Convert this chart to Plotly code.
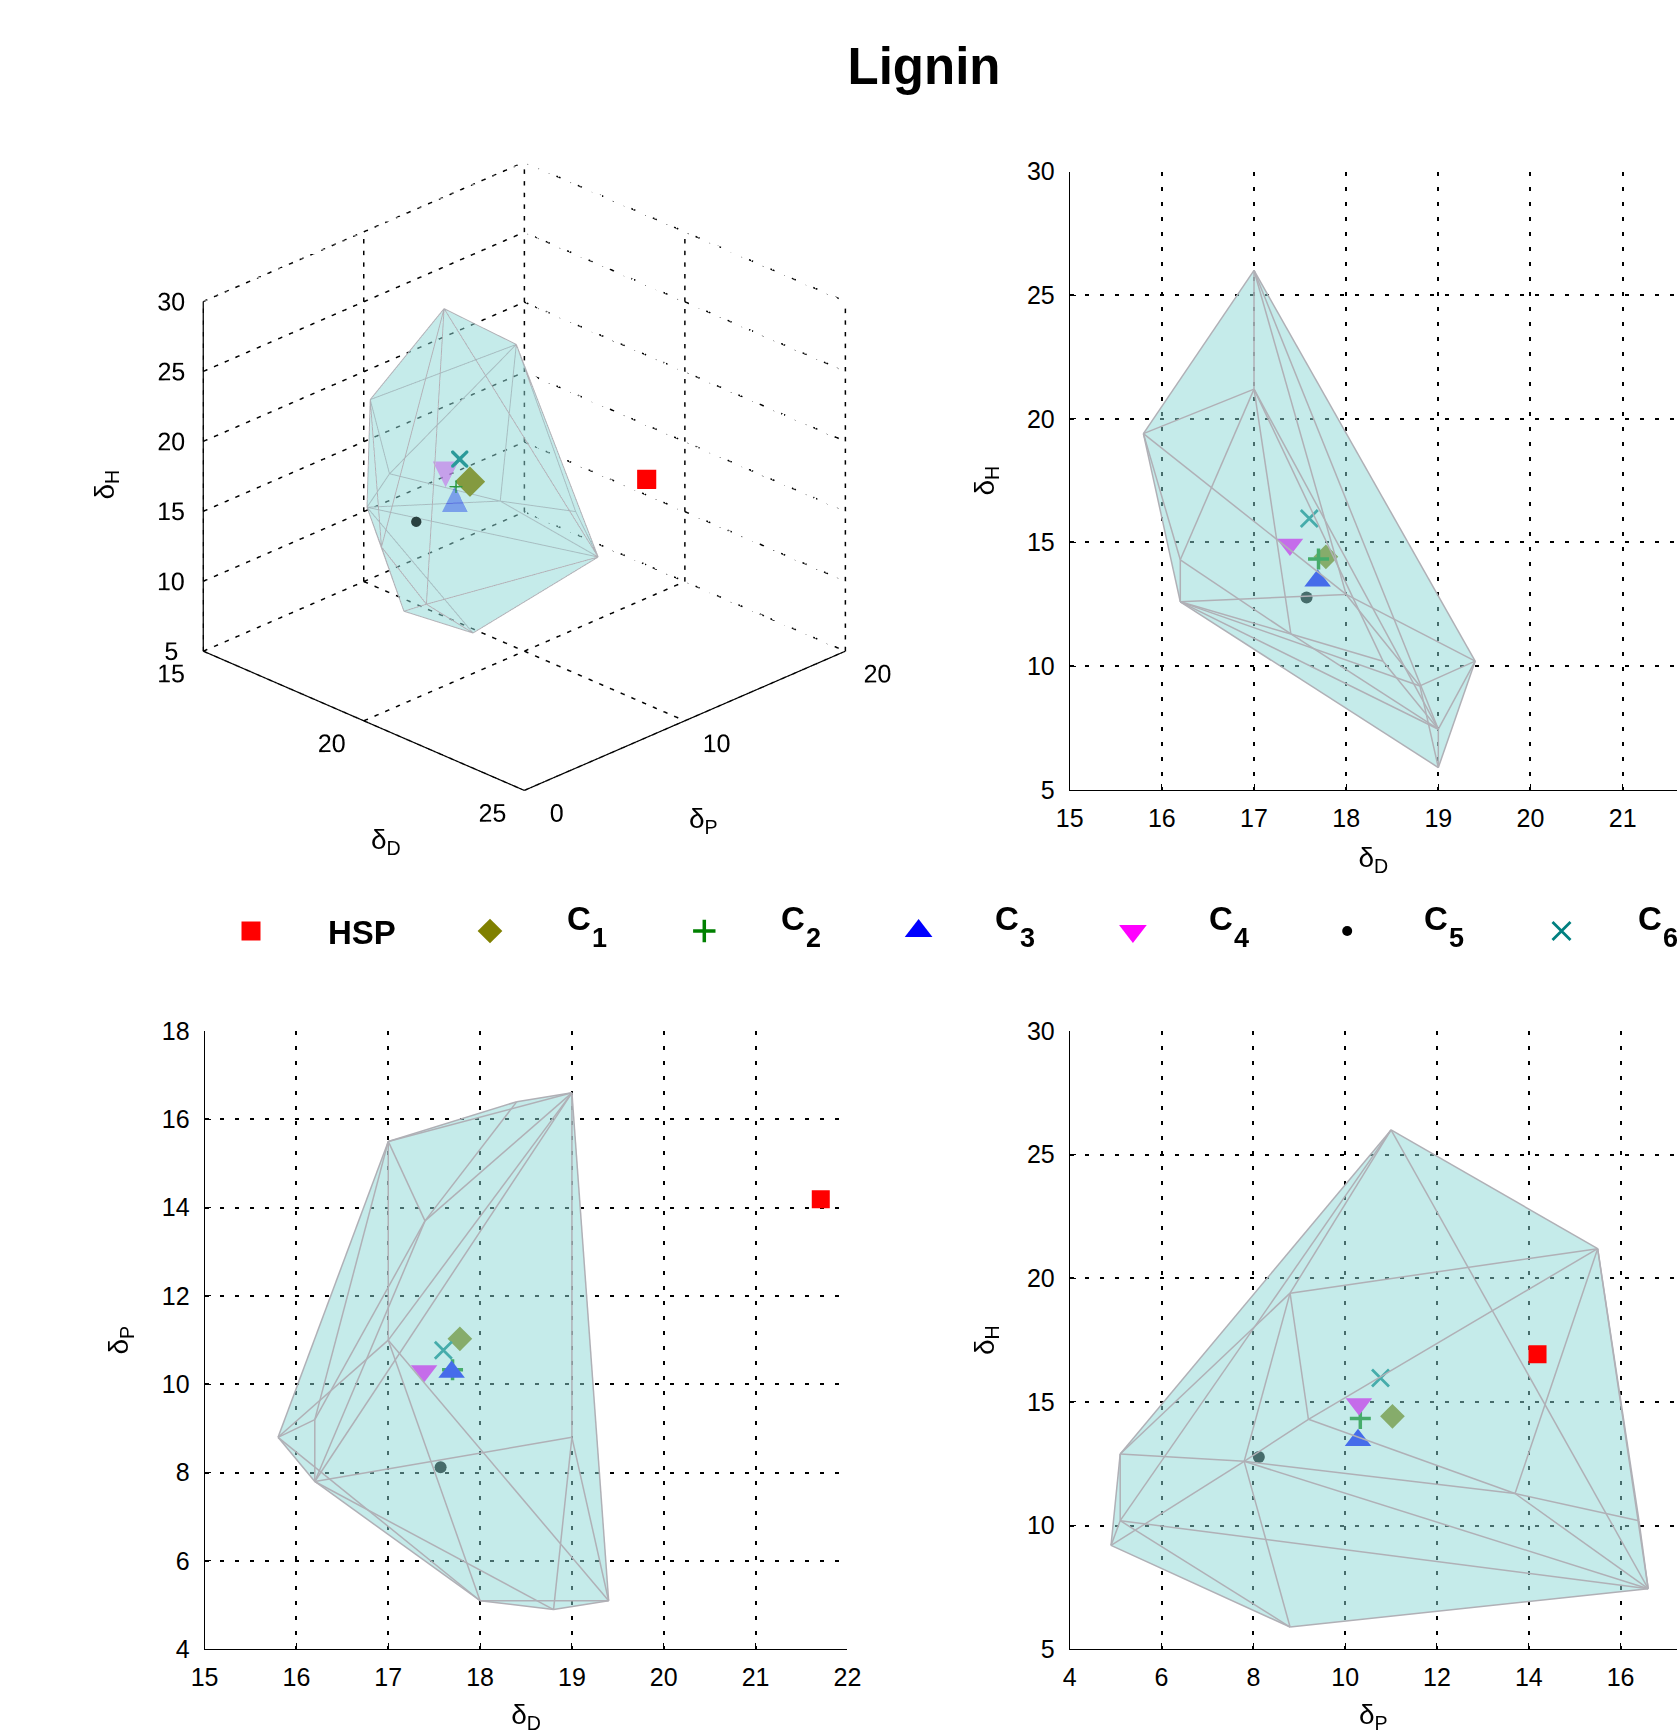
import itertools
import numpy as np
import plotly.graph_objects as go

# ---------------- data ----------------
title_text = "Lignin"

# points (solvents) spanning the convex hull: (delta_D, delta_P, delta_H)
hull_D = [17.0, 17.0, 15.8, 16.2, 16.2, 19.4, 18.8, 19.0, 19.0, 18.0, 17.4, 18.4]
hull_P = [11.0, 15.5, 8.8, 7.8, 9.2, 5.1, 4.9, 8.8, 16.6, 5.1, 13.7, 16.4]
hull_H = [26.0, 21.2, 19.4, 12.6, 14.3, 10.2, 9.2, 5.9, 7.45, 12.9, 11.3, 10.2]

# HSP and cluster centres
series_names = ["HSP", "C1", "C2", "C3", "C4", "C5", "C6"]
legend_main = ["HSP", "C", "C", "C", "C", "C", "C"]
legend_sub = ["", "1", "2", "3", "4", "5", "6"]
series_D = [21.71, 17.78, 17.70, 17.69, 17.39, 17.57, 17.60]
series_P = [14.19, 11.03, 10.33, 10.28, 10.30, 8.12, 10.77]
series_H = [16.93, 14.42, 14.33, 13.45, 14.92, 12.78, 15.97]

D_ticks = [15, 16, 17, 18, 19, 20, 21, 22]
P_ticks_dp = [4, 6, 8, 10, 12, 14, 16, 18]
P_ticks_ph = [4, 6, 8, 10, 12, 14, 16, 18]
H_ticks = [5, 10, 15, 20, 25, 30]
D_ticks_3d = [15, 20, 25]
P_ticks_3d = [0, 10, 20]

# ---------------- styles ----------------
colors = ["#FF0000", "#808000", "#008000", "#0000FF", "#FF00FF", "#000000", "#008080"]
symbols = ["square", "diamond", "cross-thin", "triangle-up", "triangle-down", "circle", "x-thin"]
sizes2d = [18, 19, 15, 23, 23, 12, 17]
sizes_leg = [19, 19, 16, 24, 24, 10, 18]
FILL = "rgba(139,215,213,0.5)"
EDGE = "#B0B0B6"
FONT = "Liberation Sans, Arial, Helvetica, sans-serif"

pts = np.array(list(zip(hull_D, hull_P, hull_H)), dtype=float)
n = len(pts)

# ---------------- 3D convex hull (brute force) ----------------
faces = []
for i, j, k in itertools.combinations(range(n), 3):
    nrm = np.cross(pts[j] - pts[i], pts[k] - pts[i])
    if np.linalg.norm(nrm) < 1e-9:
        continue
    d = (pts - pts[i]) @ nrm
    others = np.delete(d, [i, j, k])
    if np.all(others <= 1e-7) or np.all(others >= -1e-7):
        faces.append((i, j, k))
edges = set()
for f in faces:
    for a, b in itertools.combinations(f, 2):
        edges.add((min(a, b), max(a, b)))
edges = sorted(edges)


def hull2d(xs, ys):
    p = sorted(set(zip(xs, ys)))
    def cross(o, a, b):
        return (a[0]-o[0])*(b[1]-o[1]) - (a[1]-o[1])*(b[0]-o[0])
    lower, upper = [], []
    for q in p:
        while len(lower) >= 2 and cross(lower[-2], lower[-1], q) <= 0:
            lower.pop()
        lower.append(q)
    for q in reversed(p):
        while len(upper) >= 2 and cross(upper[-2], upper[-1], q) <= 0:
            upper.pop()
        upper.append(q)
    poly = lower[:-1] + upper[:-1]
    poly.append(poly[0])
    return [q[0] for q in poly], [q[1] for q in poly]


def edge_lines(a, b, c=None):
    xs, ys, zs = [], [], []
    for i, j in edges:
        xs += [a[i], a[j], None]
        ys += [b[i], b[j], None]
        if c is not None:
            zs += [c[i], c[j], None]
    return xs, ys, zs


def mk(s, size):
    thin = "thin" in symbols[s]
    return dict(symbol=symbols[s], size=size, color=colors[s],
                line=dict(width=(3.5 if symbols[s] == "cross-thin" else 2.8) if thin else 0,
                          color=colors[s]))


fig = go.Figure()

# ---------------- 2D projections ----------------
panels = [
    ("x", "y", hull_D, hull_H, series_D, series_H),
    ("x2", "y2", hull_D, hull_P, series_D, series_P),
    ("x3", "y3", hull_P, hull_H, series_P, series_H),
]
for xa, ya, hx, hy, sx, sy in panels:
    for s in range(1, 7):
        fig.add_trace(go.Scatter(x=[sx[s]], y=[sy[s]], mode="markers", xaxis=xa, yaxis=ya,
                                 showlegend=False, name=series_names[s], marker=mk(s, sizes2d[s])))
    px, py = hull2d(hx, hy)
    fig.add_trace(go.Scatter(x=px, y=py, mode="lines", fill="toself", fillcolor=FILL,
                             line=dict(width=0), xaxis=xa, yaxis=ya, showlegend=False,
                             hoverinfo="skip"))
    ex, ey, _ = edge_lines(hx, hy)
    fig.add_trace(go.Scatter(x=ex, y=ey, mode="lines", line=dict(color=EDGE, width=1.5),
                             xaxis=xa, yaxis=ya, showlegend=False, hoverinfo="skip"))
    fig.add_trace(go.Scatter(x=[sx[0]], y=[sy[0]], mode="markers", xaxis=xa, yaxis=ya,
                             showlegend=False, name=series_names[0], marker=mk(0, sizes2d[0])))

# ---------------- 3D view ----------------
Dr = [min(D_ticks_3d), max(D_ticks_3d)]
Pr = [min(P_ticks_3d), max(P_ticks_3d)]
Hr = [min(H_ticks), max(H_ticks)]

gx, gy, gz = [], [], []
NDOT = 30
def dotted(p, q):
    p = np.array(p, float); q = np.array(q, float)
    for m in range(NDOT):
        a = p + (q - p) * (m / NDOT)
        b = p + (q - p) * ((m + 0.38) / NDOT)
        gx.extend([a[0], b[0], None]); gy.extend([a[1], b[1], None]); gz.extend([a[2], b[2], None])
for p in P_ticks_3d:
    dotted((Dr[0], p, Hr[0]), (Dr[0], p, Hr[1]))
for h in H_ticks:
    dotted((Dr[0], Pr[0], h), (Dr[0], Pr[1], h))
for d in D_ticks_3d:
    dotted((d, Pr[1], Hr[0]), (d, Pr[1], Hr[1]))
for h in H_ticks:
    dotted((Dr[0], Pr[1], h), (Dr[1], Pr[1], h))
for d in D_ticks_3d:
    dotted((d, Pr[0], Hr[0]), (d, Pr[1], Hr[0]))
for p in P_ticks_3d:
    dotted((Dr[0], p, Hr[0]), (Dr[1], p, Hr[0]))
fig.add_trace(go.Scatter3d(x=gx, y=gy, z=gz, mode="lines", scene="scene",
                           line=dict(color="black", width=3),
                           showlegend=False, hoverinfo="skip"))
ax_x, ax_y, ax_z = [], [], []
for p, q in [((Dr[0], Pr[0], Hr[0]), (Dr[1], Pr[0], Hr[0])),
             ((Dr[1], Pr[0], Hr[0]), (Dr[1], Pr[1], Hr[0])),
             ((Dr[0], Pr[0], Hr[0]), (Dr[0], Pr[0], Hr[1]))]:
    ax_x += [p[0], q[0], None]; ax_y += [p[1], q[1], None]; ax_z += [p[2], q[2], None]
fig.add_trace(go.Scatter3d(x=ax_x, y=ax_y, z=ax_z, mode="lines", scene="scene",
                           line=dict(color="black", width=2.5),
                           showlegend=False, hoverinfo="skip"))

# tick labels of the 3D box
tick3 = dict(size=25, color="black", family=FONT)
fig.add_trace(go.Scatter3d(x=D_ticks_3d, y=[Pr[0] - 2.0] * 3, z=[Hr[0] - 0.6] * 3, mode="text",
                           text=[str(t) for t in D_ticks_3d], textfont=tick3, scene="scene",
                           textposition="middle center", showlegend=False, hoverinfo="skip"))
fig.add_trace(go.Scatter3d(x=[Dr[1] + 1.0] * 3, y=P_ticks_3d, z=[Hr[0] - 0.6] * 3, mode="text",
                           text=[str(t) for t in P_ticks_3d], textfont=tick3, scene="scene",
                           textposition="middle center", showlegend=False, hoverinfo="skip"))
fig.add_trace(go.Scatter3d(x=[Dr[0] - 0.5] * len(H_ticks), y=[Pr[0] - 1.0] * len(H_ticks),
                           z=H_ticks, mode="text", text=[str(t) for t in H_ticks], textfont=tick3,
                           textposition="middle center",
                           scene="scene", showlegend=False, hoverinfo="skip"))

for s in range(1, 7):
    if symbols[s] in ("triangle-up", "triangle-down"):
        fig.add_trace(go.Scatter3d(
            x=[series_D[s]], y=[series_P[s]], z=[series_H[s]], mode="text", scene="scene",
            text=["\u25B2" if symbols[s] == "triangle-up" else "\u25BC"],
            textposition="middle center", opacity=0.6,
            textfont=dict(color=colors[s], size=34, family="DejaVu Sans"),
            showlegend=False, name=series_names[s]))
    else:
        sym3 = {"diamond": "diamond", "cross-thin": "cross", "circle": "circle",
                "x-thin": "x"}[symbols[s]]
        sz3 = {"diamond": 10, "cross-thin": 7, "circle": 6, "x-thin": 4}[symbols[s]]
        fig.add_trace(go.Scatter3d(
            x=[series_D[s]], y=[series_P[s]], z=[series_H[s]], mode="markers", scene="scene",
            marker=dict(symbol=sym3, size=sz3, color=colors[s]),
            showlegend=False, name=series_names[s]))

fig.add_trace(go.Mesh3d(x=hull_D, y=hull_P, z=hull_H,
                        i=[f[0] for f in faces], j=[f[1] for f in faces], k=[f[2] for f in faces],
                        color="rgb(141,216,214)", opacity=0.3, flatshading=True,
                        lighting=dict(ambient=1, diffuse=0, specular=0, roughness=1, fresnel=0),
                        hoverinfo="skip", scene="scene"))
ex, ey, ez = edge_lines(hull_D, hull_P, hull_H)
fig.add_trace(go.Scatter3d(x=ex, y=ey, z=ez, mode="lines", scene="scene",
                           line=dict(color=EDGE, width=2), showlegend=False, hoverinfo="skip"))
fig.add_trace(go.Scatter3d(x=[series_D[0]], y=[series_P[0]], z=[series_H[0]], mode="markers",
                           scene="scene", marker=dict(symbol="square", size=10, color=colors[0]),
                           showlegend=False, name=series_names[0]))

# ---------------- custom legend row (hidden pixel axes) ----------------
leg_first, leg_second, leg_step, txt_off = 251.0, 490.0, 214.3, 76.5
leg_x = [leg_first] + [leg_second + leg_step * k for k in range(len(series_names) - 1)]
for s in range(len(series_names)):
    fig.add_trace(go.Scatter(x=[leg_x[s]], y=[931], mode="markers", xaxis="x4", yaxis="y4",
                             showlegend=False, name=series_names[s], marker=mk(s, sizes_leg[s])))
    if legend_sub[s]:
        fig.add_annotation(x=leg_x[s] + txt_off - 2, y=918, xref="x4", yref="y4",
                           text="<b>" + legend_main[s] + "</b>", showarrow=False,
                           xanchor="left", yanchor="middle",
                           font=dict(size=33, color="black", family=FONT))
        fig.add_annotation(x=leg_x[s] + txt_off + 23, y=938, xref="x4", yref="y4",
                           text="<b>" + legend_sub[s] + "</b>", showarrow=False,
                           xanchor="left", yanchor="middle",
                           font=dict(size=27, color="black", family=FONT))
    else:
        fig.add_annotation(x=leg_x[s] + txt_off - 2, y=932, xref="x4", yref="y4",
                           text="<b>" + legend_main[s] + "</b>", showarrow=False,
                           xanchor="left", yanchor="middle",
                           font=dict(size=33, color="black", family=FONT))

# ---------------- layout ----------------
W, H = 1677, 1734
def fx(px): return px / W
def fy(py): return 1 - py / H

tickfont = dict(size=25, color="black", family=FONT)
titlefont = dict(size=28, color="black", family=FONT)
common = dict(showline=True, linecolor="black", linewidth=1, ticks="inside", ticklen=6,
              tickcolor="black", showgrid=True, gridcolor="black", griddash="4px,11px",
              gridwidth=1.5, zeroline=False, tickfont=tickfont, mirror=False, automargin=False)
xcommon = dict(ticklabelstandoff=6, **common)
ycommon = dict(ticklabelstandoff=9, **common)

fig.update_layout(
    width=W, height=H, margin=dict(l=0, r=0, t=0, b=0, autoexpand=False),
    paper_bgcolor="white", plot_bgcolor="white", showlegend=False,
    font=dict(family=FONT, color="black"),
    title=dict(text="<b>" + title_text + "</b>", x=fx(924), y=fy(66), xanchor="center",
               yanchor="middle", font=dict(size=51, color="black", family=FONT),
               automargin=False),
    xaxis=dict(domain=[fx(1069.7), 1.0], range=[15, 21.59],
               tickvals=D_ticks, title=dict(text="δ<sub>D</sub>", font=titlefont, standoff=16),
               anchor="y", **xcommon),
    yaxis=dict(domain=[fy(789.8), fy(171.5)], range=[5, 30], tickvals=H_ticks,
               title=dict(text="δ<sub>H</sub>", font=titlefont, standoff=24), anchor="x", **ycommon),
    xaxis2=dict(domain=[fx(204.6), fx(847.4)], range=[15, 22], tickvals=D_ticks,
                title=dict(text="δ<sub>D</sub>", font=titlefont, standoff=18), anchor="y2", **xcommon),
    yaxis2=dict(domain=[fy(1649.3), fy(1031)], range=[4, 18], tickvals=P_ticks_dp,
                title=dict(text="δ<sub>P</sub>", font=titlefont, standoff=24), anchor="x2", **ycommon),
    xaxis3=dict(domain=[fx(1069.7), 1.0], range=[4, 4 + (W - 1069.7) / 45.91],
                tickvals=P_ticks_ph, title=dict(text="δ<sub>P</sub>", font=titlefont, standoff=18),
                anchor="y3", **xcommon),
    yaxis3=dict(domain=[fy(1649.3), fy(1031)], range=[5, 30], tickvals=H_ticks,
                title=dict(text="δ<sub>H</sub>", font=titlefont, standoff=24), anchor="x3", **ycommon),
    xaxis4=dict(domain=[0, 1], range=[0, W], visible=False, fixedrange=True),
    yaxis4=dict(domain=[fy(1000), fy(860)], range=[1000, 860], visible=False, anchor="x4",
                fixedrange=True),
)

ax3 = dict(visible=False, showgrid=False, showline=False, zeroline=False, showbackground=False,
           showspikes=False, showticklabels=False, title=dict(text=""))
rD = [14.4, 26.1]
rP = [-2.1, 20.0]
rH = [4.3, 30.0]
fig.update_layout(scene=dict(
    domain=dict(x=[fx(44.4), fx(987.0)], y=[fy(945.9), fy(38.3)]),
    xaxis=dict(range=rD, **ax3),
    yaxis=dict(range=rP, **ax3),
    zaxis=dict(range=rH, **ax3),
    aspectmode="manual",
    aspectratio=dict(x=(rD[1] - rD[0]) / (Dr[1] - Dr[0]),
                     y=(rP[1] - rP[0]) / (Pr[1] - Pr[0]),
                     z=0.855 * (rH[1] - rH[0]) / (Hr[1] - Hr[0])),
    camera=dict(eye=dict(x=1.800, y=-1.800, z=1.2256), center=dict(x=0, y=0, z=0),
                up=dict(x=0, y=0, z=1), projection=dict(type="orthographic")),
))

# 3D axis titles
fig.add_annotation(x=fx(369), y=fy(841), xref="paper", yref="paper", text="δ<sub>D</sub>",
                   showarrow=False, font=titlefont)
fig.add_annotation(x=fx(703), y=fy(821), xref="paper", yref="paper", text="δ<sub>P</sub>",
                   showarrow=False, font=titlefont)
fig.add_annotation(x=fx(86), y=fy(468), xref="paper", yref="paper", text="δ<sub>H</sub>",
                   showarrow=False, textangle=-90, font=titlefont)

fig.write_html("out.html")
